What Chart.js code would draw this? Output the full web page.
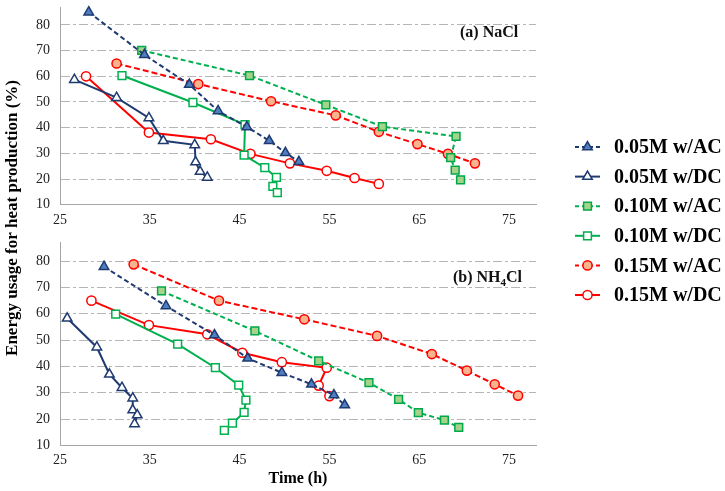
<!DOCTYPE html>
<html><head><meta charset="utf-8">
<script src="https://cdn.jsdelivr.net/npm/chart.js@4.4.0/dist/chart.umd.min.js"></script>
<style>
html,body{margin:0;padding:0;background:#fff;}
#wrap{position:relative;width:725px;height:491px;overflow:hidden;}
canvas{position:absolute;left:0;top:0;}
</style></head><body>
<div id="wrap"><canvas id="c1" width="725" height="491"></canvas><canvas id="c2" width="725" height="491"></canvas></div>
<script>
// ---------- DATA ----------
const seriesNames = ['0.05M w/AC', '0.05M w/DC', '0.10M w/AC', '0.10M w/DC', '0.15M w/AC', '0.15M w/DC'];
const panelTitles = ['(a) NaCl', '(b) NH4Cl'];
const xAxisTitle = 'Time (h)';
const yAxisTitle = 'Energy usage for heat production (%)';
const xTickLabels = [25, 35, 45, 55, 65, 75];
const yTickLabels = [10, 20, 30, 40, 50, 60, 70, 80];
const xRange = [25, 78];
const yRange = [10, 87];

// (a) NaCl
const nacl_005AC_time = [28.2, 34.4, 39.4, 42.6, 45.8, 48.3, 50.1, 51.6];
const nacl_005AC_energy = [85.0, 68.4, 56.8, 46.5, 40.3, 34.9, 30.2, 26.7];
const nacl_005DC_time = [26.6, 31.3, 34.9, 36.5, 40.0, 40.1, 40.6, 41.4];
const nacl_005DC_energy = [58.7, 51.7, 43.8, 34.9, 33.3, 26.6, 22.9, 20.6];
const nacl_010AC_time = [34.1, 46.1, 54.6, 60.9, 69.1, 68.5, 69.0, 69.6];
const nacl_010AC_energy = [70.1, 60.3, 48.9, 40.4, 36.6, 28.3, 23.5, 19.7];
const nacl_010DC_time = [31.9, 39.8, 45.6, 45.5, 47.8, 49.1, 48.7, 49.2];
const nacl_010DC_energy = [60.3, 49.8, 41.2, 29.3, 24.4, 20.6, 17.1, 14.7];
const nacl_015AC_time = [31.3, 40.4, 48.5, 55.7, 60.5, 64.8, 68.2, 71.2];
const nacl_015AC_energy = [65.0, 57.0, 50.3, 44.8, 38.4, 33.6, 29.8, 26.1];
const nacl_015DC_time = [27.9, 34.9, 41.8, 46.2, 50.6, 54.7, 57.8, 60.5];
const nacl_015DC_energy = [60.0, 38.1, 35.5, 29.8, 26.1, 23.2, 20.4, 18.1];

// (b) NH4Cl
const nh4cl_005AC_time = [29.9, 36.8, 42.2, 45.9, 49.7, 53.0, 55.5, 56.7];
const nh4cl_005AC_energy = [77.9, 63.0, 51.9, 43.1, 37.6, 33.2, 29.1, 25.3];
const nh4cl_005DC_time = [25.8, 29.1, 30.5, 31.9, 33.1, 33.1, 33.6, 33.3];
const nh4cl_005DC_energy = [58.3, 47.3, 37.0, 31.9, 27.9, 23.4, 21.5, 18.1];
const nh4cl_010AC_time = [36.3, 46.7, 53.8, 59.4, 62.7, 64.9, 67.8, 69.4];
const nh4cl_010AC_energy = [68.7, 53.5, 42.1, 33.8, 27.5, 22.4, 19.6, 16.8];
const nh4cl_010DC_time = [31.2, 38.1, 42.3, 44.9, 45.7, 45.5, 44.2, 43.3];
const nh4cl_010DC_energy = [59.9, 48.5, 39.5, 32.9, 27.2, 22.5, 18.4, 15.7];
const nh4cl_015AC_time = [33.2, 42.7, 52.2, 60.3, 66.4, 70.3, 73.4, 76.0];
const nh4cl_015AC_energy = [78.8, 65.0, 57.9, 51.6, 44.7, 38.4, 33.2, 28.9];
const nh4cl_015DC_time = [28.5, 34.9, 41.4, 45.3, 49.7, 54.7, 53.8, 55.0];
const nh4cl_015DC_energy = [65.0, 55.7, 52.2, 45.2, 41.6, 39.5, 32.7, 28.7];

// ---------- STYLES ----------
const FONT = "'Liberation Serif','Times New Roman',serif";
const styles = [
  {line:'#1f3a70', fill:'#4f7fc0', edge:'#1f3a70', dash:[5,3], shape:'triangle', r:5.5},
  {line:'#1f3a70', fill:'#ffffff', edge:'#1f3a70', dash:[],    shape:'triangle', r:5.5},
  {line:'#00b04f', fill:'#a6d38a', edge:'#00a84a', dash:[5,3], shape:'rect',     r:5.5},
  {line:'#00b04f', fill:'#ffffff', edge:'#00b04f', dash:[],    shape:'rect',     r:5.5},
  {line:'#ff0000', fill:'#f8b48c', edge:'#ff0000', dash:[6,3], shape:'circle',   r:4.6},
  {line:'#ff0000', fill:'#ffffff', edge:'#ff0000', dash:[],    shape:'circle',   r:4.6}
];

const naclSeries = [
  [nacl_005AC_time, nacl_005AC_energy], [nacl_005DC_time, nacl_005DC_energy],
  [nacl_010AC_time, nacl_010AC_energy], [nacl_010DC_time, nacl_010DC_energy],
  [nacl_015AC_time, nacl_015AC_energy], [nacl_015DC_time, nacl_015DC_energy]
];
const nh4clSeries = [
  [nh4cl_005AC_time, nh4cl_005AC_energy], [nh4cl_005DC_time, nh4cl_005DC_energy],
  [nh4cl_010AC_time, nh4cl_010AC_energy], [nh4cl_010DC_time, nh4cl_010DC_energy],
  [nh4cl_015AC_time, nh4cl_015AC_energy], [nh4cl_015DC_time, nh4cl_015DC_energy]
];

function buildDatasets(series) {
  return series.map((s, i) => {
    const st = styles[i];
    return {
      label: seriesNames[i],
      data: s[0].map((t, k) => ({x: t, y: s[1][k]})),
      borderColor: st.line,
      borderWidth: 2,
      borderDash: st.dash,
      backgroundColor: st.fill,
      pointStyle: st.shape,
      pointRadius: st.r,
      pointBorderWidth: 1.5,
      pointBorderColor: st.edge,
      pointBackgroundColor: st.fill,
      tension: 0,
      fill: false,
      clip: false
    };
  });
}

function buildOptions(isBottom) {
  return {
    responsive: false,
    animation: false,
    events: [],
    layout: { padding: isBottom
      ? {left: 0, right: 189, top: 242.8, bottom: 0}
      : {left: 0, right: 189, top: 2.2, bottom: 264.3} },
    plugins: { legend: {display: false}, tooltip: {enabled: false} },
    scales: {
      x: {
        type: 'linear', min: xRange[0], max: xRange[1],
        afterBuildTicks: (s) => { s.ticks = xTickLabels.map(v => ({value: v})); },
        ticks: {padding: 7, font: {family: FONT, size: 14}, color: '#222'},
        grid: {display: false, drawTicks: false},
        border: {display: true, color: '#a6a6a6', width: 1},
        title: isBottom
          ? {display: true, text: xAxisTitle, color: '#000',
             font: {family: FONT, size: 16, weight: 'bold'}, padding: {top: 0, bottom: 3}}
          : {display: false},
        afterFit: (s) => { s.height = isBottom ? 45.7 : 22; s.paddingLeft = 0; s.paddingRight = 0; }
      },
      y: {
        type: 'linear', min: yRange[0], max: yRange[1],
        afterBuildTicks: (s) => { s.ticks = yTickLabels.map(v => ({value: v})); },
        ticks: {padding: 10, font: {family: FONT, size: 14}, color: '#222'},
        grid: {drawTicks: false, lineWidth: 1,
               color: (c) => (c.tick && c.tick.value === yTickLabels[0]) ? 'rgba(0,0,0,0)' : '#b5b5b5'},
        border: {display: true, color: '#a6a6a6', width: 1, dash: [9,3,3,3]},
        afterFit: (s) => { s.width = 60; s.paddingTop = 0; s.paddingBottom = 0; }
      }
    }
  };
}

function drawMarker(ctx, shape, x, y, r) {
  ctx.beginPath();
  if (shape === 'circle') {
    ctx.arc(x, y, r, 0, Math.PI * 2);
  } else if (shape === 'rect') {
    const s = r * Math.SQRT1_2;
    ctx.rect(x - s, y - s, 2 * s, 2 * s);
  } else {
    const a = -Math.PI / 2;
    for (let k = 0; k < 3; k++) {
      const ang = a + k * 2 * Math.PI / 3;
      const px = x + Math.cos(ang) * r, py = y + Math.sin(ang) * r;
      if (k === 0) ctx.moveTo(px, py); else ctx.lineTo(px, py);
    }
    ctx.closePath();
  }
  ctx.fill();
  ctx.stroke();
}

const panelLabelA = {
  id: 'panelLabelA',
  afterDraw(chart) {
    const ctx = chart.ctx;
    ctx.save();
    ctx.font = 'bold 16px ' + FONT;
    ctx.fillStyle = '#111';
    ctx.textBaseline = 'middle';
    ctx.textAlign = 'left';
    ctx.fillText(panelTitles[0], 460, 33);
    ctx.restore();
  }
};

const decorations = {
  id: 'decorations',
  afterDraw(chart) {
    const ctx = chart.ctx;
    ctx.save();
    // panel (b) label with subscript
    const t = panelTitles[1];
    const pre = t.slice(0, t.indexOf('4'));
    const post = t.slice(t.indexOf('4') + 1);
    ctx.fillStyle = '#111';
    ctx.textBaseline = 'alphabetic';
    ctx.textAlign = 'left';
    let x = 453, base = 282;
    ctx.font = 'bold 16px ' + FONT;
    ctx.fillText(pre, x, base);
    x += ctx.measureText(pre).width;
    ctx.font = 'bold 11px ' + FONT;
    ctx.fillText('4', x, base + 4);
    x += ctx.measureText('4').width;
    ctx.font = 'bold 16px ' + FONT;
    ctx.fillText(post, x, base);

    // y-axis title
    ctx.save();
    ctx.translate(13, 218);
    ctx.rotate(-Math.PI / 2);
    ctx.font = 'bold 17px ' + FONT;
    ctx.fillStyle = '#000';
    ctx.textAlign = 'center';
    ctx.textBaseline = 'middle';
    ctx.fillText(yAxisTitle, 0, 0);
    ctx.restore();

    // legend
    for (let i = 0; i < seriesNames.length; i++) {
      const st = styles[i];
      const y = 147 + i * 29.6;
      ctx.save();
      ctx.strokeStyle = st.line;
      ctx.lineWidth = 2;
      ctx.setLineDash(st.dash.length ? [4, 3] : []);
      ctx.beginPath();
      ctx.moveTo(575, y);
      ctx.lineTo(600, y);
      ctx.stroke();
      ctx.setLineDash([]);
      ctx.lineWidth = 1.5;
      ctx.strokeStyle = st.edge;
      ctx.fillStyle = st.fill;
      drawMarker(ctx, st.shape, 587.5, y, st.r);
      ctx.restore();
      ctx.font = 'bold 20px ' + FONT;
      ctx.fillStyle = '#000';
      ctx.textAlign = 'left';
      ctx.textBaseline = 'middle';
      ctx.fillText(seriesNames[i], 614, y + 1);
    }
    ctx.restore();
  }
};

new Chart(document.getElementById('c1'), {
  type: 'line',
  data: {datasets: buildDatasets(naclSeries)},
  options: buildOptions(false),
  plugins: [panelLabelA]
});
new Chart(document.getElementById('c2'), {
  type: 'line',
  data: {datasets: buildDatasets(nh4clSeries)},
  options: buildOptions(true),
  plugins: [decorations]
});
</script>
</body></html>
